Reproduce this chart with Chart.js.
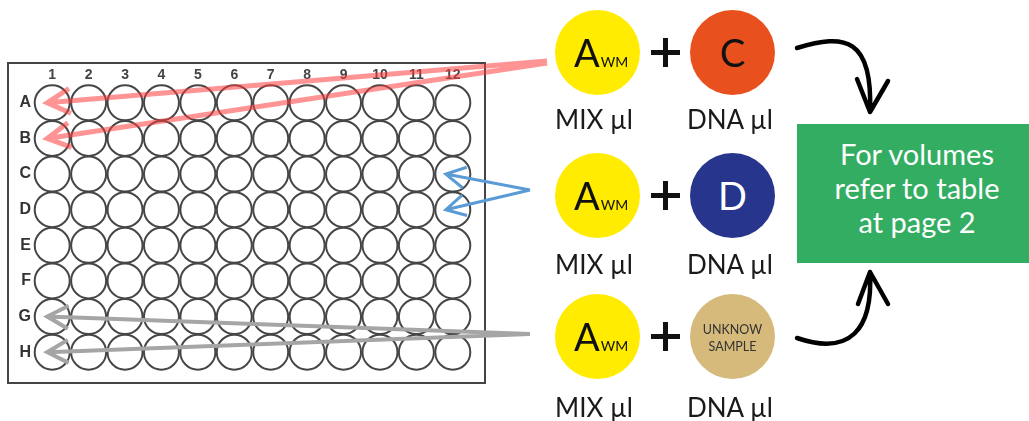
<!DOCTYPE html>
<html>
<head>
<meta charset="utf-8">
<script src="https://cdn.jsdelivr.net/npm/chart.js@4.4.1/dist/chart.umd.min.js"></script>
<style>
  body { margin: 0; background: #fff; overflow: hidden; }
  #wrap { position: relative; width: 1029px; height: 421px; overflow: hidden; font-family: Lato, "Open Sans", sans-serif; }
  #plateFrame { position: absolute; left: 7px; top: 62px; width: 475px; height: 318px; border: 2px solid #444; }
  #plate { position: absolute; left: 0; top: 0; }
  .dot { position: absolute; width: 85px; height: 85px; border-radius: 50%; }
  .yellow { background: #ffec00; left: 555px; }
  .orange { background: #e8511d; left: 690px; }
  .navy { background: #27358c; left: 690px; }
  .tan { background: #d5ba7c; left: 690px; }
  .big { position: absolute; left: 0; right: 0; top: 22px; text-align: center; font-size: 38px; line-height: 40px; }
  .awm { position: absolute; left: 19px; top: 22px; font-size: 38px; line-height: 40px; color: #111; }
  .awm small { font-size: 14px; margin-left: 1px; }
  .plus { position: absolute; left: 651px; width: 29px; height: 29px; }
  .plus:before, .plus:after { content: ""; position: absolute; background: #111; }
  .plus:before { left: 0; top: 12px; width: 29px; height: 4.5px; }
  .plus:after { left: 12px; top: 0; width: 4.5px; height: 29px; }
  .lbl { position: absolute; font-size: 26px; line-height: 26px; color: #1a1a1a; text-align: center; width: 120px; }
  .unk { position: absolute; left: 0; right: 0; top: 27px; text-align: center; font-size: 12.5px; line-height: 17px; color: #333; }
  #note { position: absolute; left: 797px; top: 124px; width: 240px; height: 139px; background: #33ad62;
          color: #fff; font-size: 29px; line-height: 34px; text-align: center; box-sizing: border-box; padding-top: 13px; }
</style>
</head>
<body>
<div id="wrap">
  <div id="plateFrame"></div>
  <canvas id="plate" width="1029" height="421"></canvas>

  <div class="dot yellow" style="top:10px"><div class="awm">A<small>WM</small></div></div>
  <div class="plus" style="top:38px"></div>
  <div class="dot orange" style="top:10px"><div class="big" style="color:#111">C</div></div>
  <div class="lbl" style="left:534px;top:106px">MIX µl</div>
  <div class="lbl" style="left:670px;top:106px">DNA µl</div>

  <div class="dot yellow" style="top:153px"><div class="awm">A<small>WM</small></div></div>
  <div class="plus" style="top:181px"></div>
  <div class="dot navy" style="top:153px"><div class="big" style="color:#fff">D</div></div>
  <div class="lbl" style="left:534px;top:251px">MIX µl</div>
  <div class="lbl" style="left:670px;top:251px">DNA µl</div>

  <div class="dot yellow" style="top:294px"><div class="awm">A<small>WM</small></div></div>
  <div class="plus" style="top:322px"></div>
  <div class="dot tan" style="top:294px"><div class="unk">UNKNOW<br>SAMPLE</div></div>
  <div class="lbl" style="left:534px;top:394px">MIX µl</div>
  <div class="lbl" style="left:670px;top:394px">DNA µl</div>

  <div id="note">For volumes<br>refer to table<br>at page 2</div>
</div>

<script>
const columns = ["1", "2", "3", "4", "5", "6", "7", "8", "9", "10", "11", "12"];
const rows = ["A", "B", "C", "D", "E", "F", "G", "H"];

// wells each arrow points at: [column, row]
const controlCWells = [["1", "A"], ["1", "B"]];
const controlDWells = [["12", "C"], ["12", "D"]];
const sampleWells = [["1", "G"], ["1", "H"]];

// where the arrows leave the right-hand side
const arrowStarts = {
  red: [[547, 61], [547, 63]],
  blue: [[530, 190], [530, 190]],
  grey: [[530, 334], [530, 334]]
};

const wells = [];
rows.forEach(r => columns.forEach(c => wells.push({ x: columns.indexOf(c) + 1, y: rows.indexOf(r) + 1 })));

function wellValue(well) {
  return { x: columns.indexOf(well[0]) + 1, y: rows.indexOf(well[1]) + 1 };
}

function arrowPath(ctx, from, to, head, spread) {
  const ang = Math.atan2(from[1] - to[1], from[0] - to[0]);
  ctx.moveTo(from[0], from[1]);
  ctx.lineTo(to[0], to[1]);
  ctx.moveTo(to[0] + head * Math.cos(ang + spread), to[1] + head * Math.sin(ang + spread));
  ctx.lineTo(to[0], to[1]);
  ctx.lineTo(to[0] + head * Math.cos(ang - spread), to[1] + head * Math.sin(ang - spread));
}

const arrowsPlugin = {
  id: "arrows",
  afterDatasetsDraw(chart) {
    const ctx = chart.ctx;
    const xs = chart.scales.x;
    const ys = chart.scales.y;

    const groups = [
      { wells: controlCWells, starts: arrowStarts.red, color: "rgba(255, 60, 60, 0.55)", width: 5, head: 26, shift: -5 },
      { wells: controlDWells, starts: arrowStarts.blue, color: "#5b9bd5", width: 3, head: 22, shift: -7 },
      { wells: sampleWells, starts: arrowStarts.grey, color: "#a5a5a5", width: 4, head: 24, shift: -5 }
    ];

    ctx.save();
    ctx.lineCap = "butt";
    ctx.lineJoin = "miter";
    groups.forEach(g => {
      ctx.beginPath();
      g.wells.forEach((w, i) => {
        const v = wellValue(w);
        const tip = [xs.getPixelForValue(v.x) + g.shift, ys.getPixelForValue(v.y)];
        arrowPath(ctx, g.starts[i], tip, g.head, 0.5);
      });
      ctx.strokeStyle = g.color;
      ctx.lineWidth = g.width;
      ctx.stroke();
    });

    // black curved arrows into the green box
    ctx.strokeStyle = "#000";
    ctx.lineWidth = 4.5;
    ctx.lineCap = "round";
    ctx.lineJoin = "round";
    ctx.beginPath();
    ctx.moveTo(797, 48);
    ctx.bezierCurveTo(845, 33, 873, 38, 870, 112);
    ctx.moveTo(857, 79);
    ctx.lineTo(870, 112);
    ctx.lineTo(888, 81);
    ctx.moveTo(797, 338);
    ctx.bezierCurveTo(850, 356, 873, 330, 870, 272);
    ctx.moveTo(858, 304);
    ctx.lineTo(870, 272);
    ctx.lineTo(888, 304);
    ctx.stroke();
    ctx.restore();
  }
};

new Chart(document.getElementById("plate"), {
  type: "scatter",
  data: {
    datasets: [{
      data: wells,
      pointRadius: 17.5,
      pointHoverRadius: 17.5,
      pointBorderWidth: 2,
      borderColor: "#464646",
      backgroundColor: "#ffffff",
      clip: false
    }]
  },
  options: {
    responsive: false,
    animation: false,
    events: [],
    layout: {
      padding: { left: 10, top: 65, right: 558, bottom: 51 }
    },
    plugins: {
      legend: { display: false },
      tooltip: { enabled: false }
    },
    scales: {
      x: {
        type: "linear",
        position: "top",
        min: 0.5,
        max: 12.5,
        afterBuildTicks: s => { s.ticks = columns.map((c, i) => ({ value: i + 1 })); },
        afterFit: s => { s.height = 20; },
        grid: { display: false, drawTicks: false },
        border: { display: false },
        ticks: {
          autoSkip: false,
          maxRotation: 0,
          padding: 1,
          color: "#444",
          font: { family: "Liberation Sans", size: 14, weight: "bold" },
          callback: v => columns[v - 1]
        }
      },
      y: {
        type: "linear",
        reverse: true,
        min: 0.5,
        max: 8.5,
        afterBuildTicks: s => { s.ticks = rows.map((r, i) => ({ value: i + 1 })); },
        afterFit: s => { s.width = 24; },
        grid: { display: false, drawTicks: false },
        border: { display: false },
        ticks: {
          autoSkip: false,
          padding: 3,
          color: "#333",
          font: { family: "Liberation Sans", size: 16, weight: "bold" },
          callback: v => rows[v - 1]
        }
      }
    }
  },
  plugins: [arrowsPlugin]
});
</script>
</body>
</html>
